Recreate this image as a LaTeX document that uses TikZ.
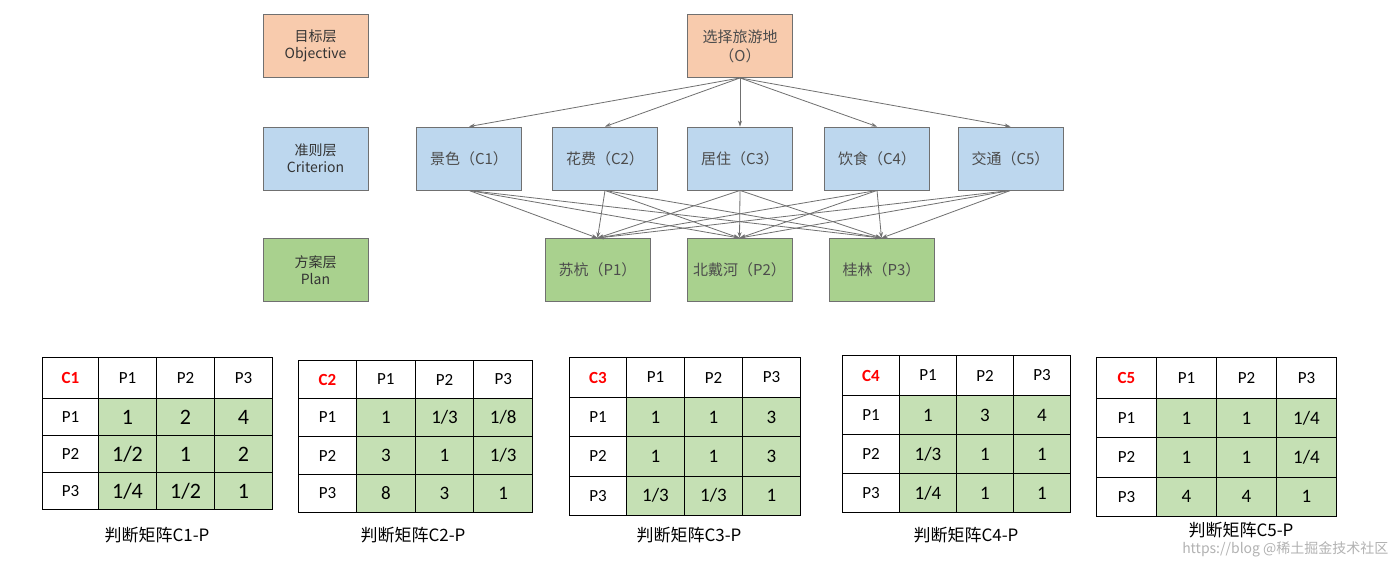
\documentclass[tikz,border=0pt]{standalone}
\usepackage{fontspec}
\setmainfont{Carlito}
\newfontfamily\cjk{Noto Sans CJK SC}
\usetikzlibrary{arrows.meta}
\definecolor{orf}{HTML}{F8CBAD}
\definecolor{blf}{HTML}{BDD7EE}
\definecolor{grf}{HTML}{A9D18E}
\definecolor{cellg}{HTML}{C5E0B4}
\definecolor{edge}{HTML}{707070}
\tikzset{
 box/.style={draw=edge,line width=0.9pt,minimum width=105pt,minimum height=63pt,align=center,inner sep=0pt,font=\cjk\fontsize{15}{19}\selectfont,text=black!70},
 lab/.style={box,font=\cjk\fontsize{14}{17}\selectfont,text=black!80},
 arr/.style={draw=edge,line width=0.8pt,-{Stealth[length=6pt,width=4pt]}},
 cellw/.style={draw=black,line width=1pt,fill=white},
 cellgr/.style={draw=black,line width=1pt,fill=cellg}
}
\begin{document}
\begin{tikzpicture}[x=1pt,y=-1pt]
\useasboundingbox (0,0) rectangle (1396,562);
\fill[white] (0,0) rectangle (1396,562);
% labels
\node[lab,fill=orf] (L1) at (315.5,46) {目标层\\{\fontsize{14}{17}\selectfont Objective}};
\node[lab,fill=blf] (L2) at (315.5,158.5) {准则层\\{\fontsize{14}{17}\selectfont Criterion}};
\node[lab,fill=grf] (L3) at (315.5,270) {方案层\\{\fontsize{14}{17}\selectfont Plan}};
\node[box,fill=orf] (O) at (740,46) {选择旅游地\\（O）};
\foreach \n/\x/\t in {1/469/景色（C1）,2/605/花费（C2）,3/740/居住（C3）,4/877/饮食（C4）,5/1010.5/交通（C5）}
  \node[box,fill=blf] (C\n) at (\x,158.5) {\t};
\foreach \n/\x/\t in {1/597.5/苏杭（P1）,2/739.5/北戴河（P2）,3/881.5/桂林（P3）}
  \node[box,fill=grf] (P\n) at (\x,270) {\t};
\foreach \n in {1,...,5} \draw[arr] (O.south) -- (C\n.north);
\foreach \n in {1,...,5} \foreach \m in {1,2,3} \draw[arr] (C\n.south) -- (P\m.north);
% tables
\foreach \k/\X/\Y/\W/\w/\H/\h/\fs/\vals in {
 1/42/357/56/58/41/37/22/{{1,2,4},{1/2,1,2},{1/4,1/2,1}},
 2/298/360/58/58.7/38/38/19/{{1,1/3,1/8},{3,1,1/3},{8,3,1}},
 3/569/357/57/58/40/39.3/19/{{1,1,3},{1,1,3},{1/3,1/3,1}},
 4/842/355/57/57/40/39/19/{{1,3,4},{1/3,1,1},{1/4,1,1}},
 5/1096/357/60/60/41/39.3/19/{{1,1,1/4},{1,1,1/4},{4,4,1}}}{
  \begin{scope}[font=\fontsize{\fs}{\fs}\selectfont]
  \node[cellw,minimum width=\W,minimum height=\H,inner sep=0pt,anchor=north west,text=red,font=\bfseries\fontsize{17}{17}\selectfont] (T\k h) at (\X,\Y) {C\k};
  \foreach \j in {1,2,3}{
    \node[cellw,minimum width=\w,minimum height=\H,inner sep=0pt,anchor=north west,font=\fontsize{17}{17}\selectfont] (T\k c\j) at ({\X+\W+(\j-1)*\w},\Y) {P\j};
    \node[cellw,minimum width=\W,minimum height=\h,inner sep=0pt,anchor=north west,font=\fontsize{17}{17}\selectfont] (T\k r\j) at (\X,{\Y+\H+(\j-1)*\h}) {P\j};
  }
  \foreach \row [count=\i] in \vals {
    \foreach \v [count=\j] in \row {
      \node[cellgr,minimum width=\w,minimum height=\h,inner sep=0pt,anchor=north west] (T\k v\i\j) at ({\X+\W+(\j-1)*\w},{\Y+\H+(\i-1)*\h}) {\v};
    }
  }
  \end{scope}
}
\node[font=\cjk\fontsize{17}{17}\selectfont] (cap1) at (157,535) {判断矩阵C1-P};
\node[font=\cjk\fontsize{17}{17}\selectfont] (cap2) at (413,535) {判断矩阵C2-P};
\node[font=\cjk\fontsize{17}{17}\selectfont] (cap3) at (689,535) {判断矩阵C3-P};
\node[font=\cjk\fontsize{17}{17}\selectfont] (cap4) at (966,535) {判断矩阵C4-P};
\node[font=\cjk\fontsize{17}{17}\selectfont] (cap5) at (1241,530) {判断矩阵C5-P};
\node[font=\cjk\fontsize{14}{14}\selectfont,text=black!30,anchor=east] (wm) at (1392,549) {https://blog @稀土掘金技术社区};
\end{tikzpicture}
\end{document}
